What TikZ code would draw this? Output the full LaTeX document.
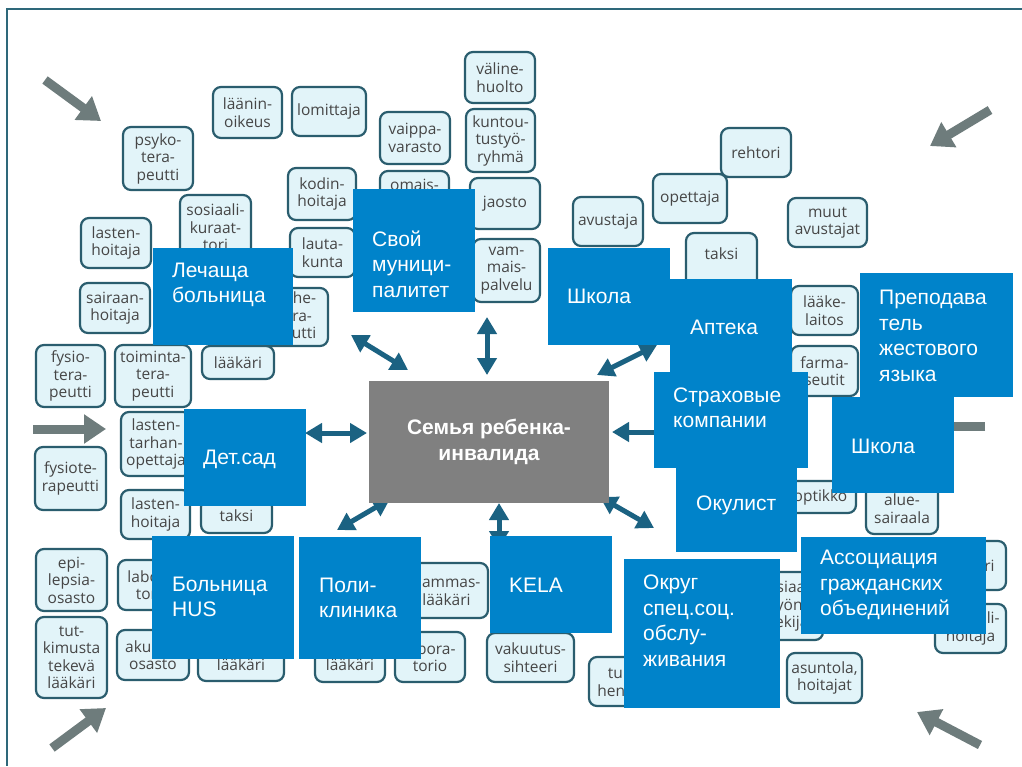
\documentclass[tikz,border=0pt]{standalone}
\usepackage{fontspec}
\setmainfont{Liberation Sans}
\newfontfamily\finfont{Open Sans}
\usetikzlibrary{arrows.meta}
\definecolor{bluebox}{RGB}{0,131,202}
\definecolor{centerbox}{RGB}{128,128,128}
\definecolor{finfill}{RGB}{226,244,249}
\definecolor{finborder}{RGB}{42,93,110}
\definecolor{fintext}{RGB}{70,70,70}
\definecolor{grayarr}{RGB}{110,124,124}
\definecolor{tealarr}{RGB}{27,98,130}
\definecolor{framecol}{RGB}{46,104,122}
\tikzset{
  finbox/.style={draw=finborder, fill=finfill, line width=2.2pt, rounded corners=8pt,
    inner sep=1pt, align=center, text=fintext,
    font=\finfont\fontsize{15.5}{17.5}\selectfont},
  bluerect/.style={fill=bluebox, inner sep=0pt},
  bluetext/.style={text=white, align=left, inner sep=0pt, anchor=west,
    font=\fontsize{21}{25.5}\selectfont},
  grayarrow/.style={draw=grayarr, line width=9pt, -{Triangle[length=22pt,width=28pt]}},
  tealarrow/.style={draw=tealarr, line width=5pt,
    {Triangle[length=17pt,width=19pt]}-{Triangle[length=17pt,width=19pt]}},
  framestyle/.style={draw=framecol, line width=2.5pt},
}
\newcommand\FinBox[6]{\node[finbox, minimum width={(#4-#2)*1pt}, minimum height={(#5-#3)*1pt}] (#1) at ({(#2+#4)/2},{(#3+#5)/2}) {#6};}
\newcommand\FinBoxT[7]{\node[finbox, minimum width={(#4-#2)*1pt}, minimum height={(#5-#3)*1pt}] (#1) at ({(#2+#4)/2},{(#3+#5)/2}) {};
  \node[text=fintext, font=\finfont\fontsize{15.5}{17.5}\selectfont, align=center, inner sep=0pt] (#1-t) at ({(#2+#4)/2},#6) {#7};}
\newcommand\BlueBox[8]{\node[bluerect, minimum width={(#4-#2)*1pt}, minimum height={(#5-#3)*1pt}] (#1) at ({(#2+#4)/2},{(#3+#5)/2}) {};
  \node[bluetext] (#1-t) at (#6,#7) {#8};}
\begin{document}
\begin{tikzpicture}[x=1pt,y=-1pt]
\useasboundingbox[fill=white] (0,0) rectangle (1022,766);
% frame
\coordinate (fr-tr) at (1022,9);
\coordinate (fr-tl) at (7,9);
\coordinate (fr-bl) at (7,766);
\draw[framestyle] (fr-tr) -- (fr-tl) -- (fr-bl);
% gray arrows
\coordinate (g1a) at (45,80);   \coordinate (g1b) at (101,121);
\coordinate (g2a) at (990,110); \coordinate (g2b) at (930,146);
\coordinate (g3a) at (33,429);  \coordinate (g3b) at (106,429);
\coordinate (g4a) at (985,426); \coordinate (g4b) at (905,426);
\coordinate (g5a) at (52,748);  \coordinate (g5b) at (106,708);
\coordinate (g6a) at (980,745); \coordinate (g6b) at (917,712);
\draw[grayarrow] (g1a) -- (g1b);
\draw[grayarrow] (g2a) -- (g2b);
\draw[grayarrow] (g3a) -- (g3b);
\draw[grayarrow] (g4a) -- (g4b);
\draw[grayarrow] (g5a) -- (g5b);
\draw[grayarrow] (g6a) -- (g6b);
% Finnish boxes
\FinBox{laanin}{213}{87}{282}{138}{läänin-\\oikeus}
\FinBox{lomit}{292}{87}{366}{136}{lomittaja}
\FinBox{psyko}{123}{127}{193}{190}{psyko-\\tera-\\peutti}
\FinBox{sosku}{180}{195}{251}{260}{sosiaali-\\kuraat-\\tori}
\FinBox{lastenhA}{81}{218}{151}{268}{lasten-\\hoitaja}
\FinBox{kodin}{288}{168}{356}{220}{kodin-\\hoitaja}
\FinBox{lauta}{290}{228}{355}{277}{lauta-\\kunta}
\FinBox{vaippa}{380}{112}{450}{164}{vaippa-\\varasto}
\FinBox{omais}{380}{171}{449}{199}{omais-}
\FinBox{valine}{465}{52}{535}{103}{väline-\\huolto}
\FinBox{kuntou}{466}{109}{535}{172}{kuntou-\\tustyö-\\ryhmä}
\FinBox{jaosto}{470}{178}{540}{229}{jaosto}
\FinBox{vammais}{473}{239}{540}{302}{vam-\\mais-\\palvelu}
\FinBox{puhe}{262}{288}{328}{346}{puhe-\\tera-\\peutti}
\FinBox{sairaan}{80}{283}{150}{333}{sairaan-\\hoitaja}
\FinBox{fysioA}{36}{345}{105}{407}{fysio-\\tera-\\peutti}
\FinBox{toiminta}{115}{345}{191}{407}{toiminta-\\tera-\\peutti}
\FinBox{laakariA}{202}{346}{274}{379}{lääkäri}
\FinBox{tarhan}{121}{412}{191}{476}{lasten-\\tarhan-\\opettaja}
\FinBox{fysioB}{35}{447}{106}{510}{fysiote-\\rapeutti}
\FinBox{lastenhB}{121}{490}{190}{539}{lasten-\\hoitaja}
\FinBox{taksiA}{201}{499}{272}{533}{taksi}
\FinBox{epi}{36}{549}{107}{611}{epi-\\lepsia-\\osasto}
\FinBox{laboA}{118}{560}{188}{610}{labora-\\torio}
\FinBox{tutk}{36}{617}{107}{698}{tut-\\kimusta\\tekevä\\lääkäri}
\FinBox{akuutti}{117}{630}{189}{680}{akuutti-\\osasto}
\FinBox{laakariB}{198}{649}{284}{681}{lääkäri}
\FinBox{laakariC}{315}{647}{385}{682}{lääkäri}
\FinBox{laboB}{395}{632}{465}{682}{labora-\\torio}
\FinBox{hammas}{405}{563}{488}{618}{hammas-\\lääkäri}
\FinBox{vakuutus}{487}{633}{574}{682}{vakuutus-\\sihteeri}
\FinBox{tuki}{589}{657}{659}{706}{tuki-\\henkilö}
\FinBox{sostyo}{755}{572}{823}{640}{sosiaali-\\työn-\\tekijä}
\FinBox{asuntola}{787}{653}{862}{703}{asuntola,\\hoitajat}
\FinBox{optikko}{785}{481}{856}{513}{optikko}
\FinBox{alue}{866}{483}{938}{534}{alue-\\sairaala}
\FinBox{laakariD}{935}{541}{1006}{590}{lääkäri}
\FinBox{soshoit}{935}{604}{1006}{653}{sosiaali-\\hoitaja}
\FinBox{rehtori}{721}{128}{791}{177}{rehtori}
\FinBox{opettaja}{653}{174}{727}{223}{opettaja}
\FinBox{avustaja}{573}{197}{643}{246}{avustaja}
\FinBoxT{taksiB}{686}{233}{757}{292}{254}{taksi}
\FinBox{muut}{788}{198}{867}{247}{muut\\avustajat}
\FinBox{laake}{791}{286}{858}{335}{lääke-\\laitos}
\FinBox{farma}{791}{346}{858}{396}{farma-\\seutit}
% teal double arrows around the centre
\coordinate (t1a) at (351,335); \coordinate (t1b) at (408,370);
\coordinate (t2a) at (487,317); \coordinate (t2b) at (487,375);
\coordinate (t3a) at (597,375); \coordinate (t3b) at (657,345);
\coordinate (t4a) at (305,433); \coordinate (t4b) at (367,433);
\coordinate (t5a) at (612,432); \coordinate (t5b) at (675,432);
\coordinate (t6a) at (390,499); \coordinate (t6b) at (337,530);
\coordinate (t7a) at (499,503); \coordinate (t7b) at (499,548);
\coordinate (t8a) at (600,497); \coordinate (t8b) at (654,528);
\draw[tealarrow] (t1a) -- (t1b);
\draw[tealarrow] (t2a) -- (t2b);
\draw[tealarrow] (t3a) -- (t3b);
\draw[tealarrow] (t4a) -- (t4b);
\draw[tealarrow] (t5a) -- (t5b);
\draw[tealarrow] (t6a) -- (t6b);
\draw[tealarrow] (t7a) -- (t7b);
\draw[tealarrow] (t8a) -- (t8b);
% blue boxes
\BlueBox{lech}{153}{248}{293}{345}{172}{285}{Лечаща\\больница}
\BlueBox{svoy}{353}{189}{475}{312}{372}{264}{Свой\\муници-\\палитет}
\BlueBox{shkA}{548}{248}{670}{345}{567}{296}{Школа}
\BlueBox{apt}{670}{279}{792}{390}{690}{327}{Аптека}
\BlueBox{okul}{676}{455}{797}{552}{696}{505}{Окулист}
\BlueBox{strah}{654}{372}{808}{468}{673}{408}{Страховые\\компании}
\BlueBox{prep}{860}{273}{1013}{397}{879}{336}{Преподава\\тель\\жестового\\языка}
\BlueBox{shkB}{832}{397}{954}{493}{851}{446}{Школа}
\BlueBox{detsad}{184}{409}{306}{506}{203}{459}{Дет.сад}
\BlueBox{hus}{152}{536}{294}{659}{172}{597}{Больница\\HUS}
\BlueBox{poli}{299}{537}{421}{659}{319}{598}{Поли-\\клиника}
\BlueBox{kela}{490}{536}{612}{633}{509}{585}{KELA}
\BlueBox{okrug}{624}{559}{780}{708}{643}{621}{Округ\\спец.соц.\\обслу-\\живания}
\BlueBox{assoc}{801}{537}{986}{634}{820}{585}{Ассоциация\\гражданских\\объединений}
% centre
\node[fill=centerbox, minimum width=240pt, minimum height=122pt, inner sep=0pt,
  text=white, align=center, font=\bfseries\fontsize{21}{26}\selectfont] (family) at (489,442)
  {Семья ребенка-\\инвалида};
\end{tikzpicture}
\end{document}
